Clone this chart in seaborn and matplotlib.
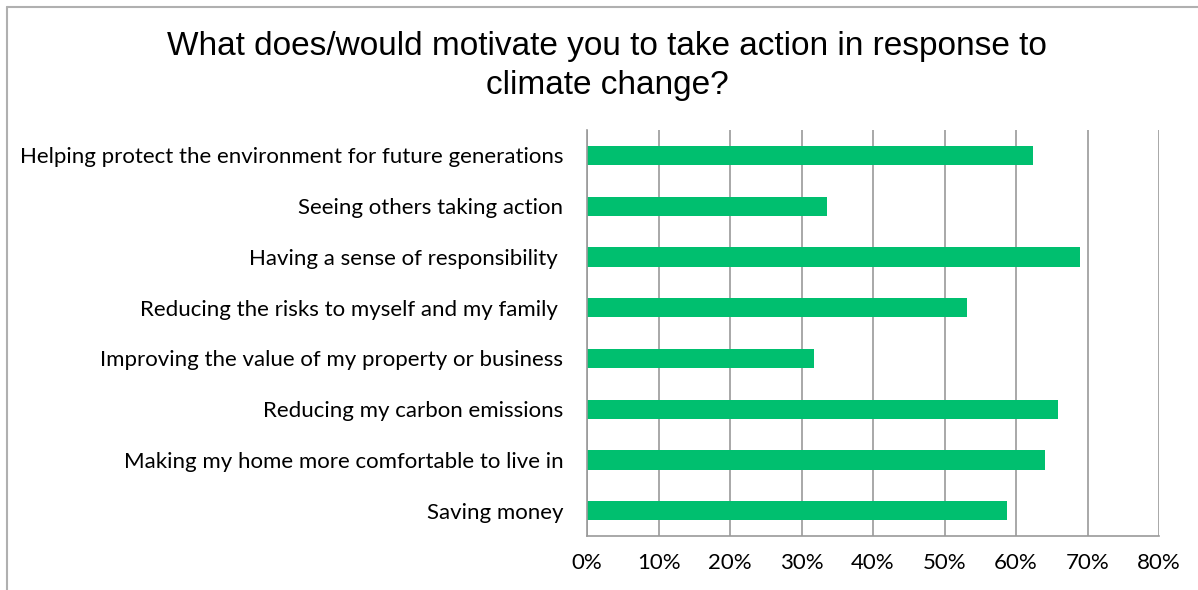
import numpy as np
import pandas as pd
import matplotlib
matplotlib.use("Agg")
import matplotlib.pyplot as plt
import seaborn as sns
from matplotlib.ticker import PercentFormatter, FixedLocator
from matplotlib.lines import Line2D

categories = [
    "Helping protect the environment for future generations",
    "Seeing others taking action",
    "Having a sense of responsibility ",
    "Reducing the risks to myself and my family ",
    "Improving the value of my property or business",
    "Reducing my carbon emissions",
    "Making my home more comfortable to live in",
    "Saving money",
]
shares = [62.3, 33.6, 68.9, 53.1, 31.7, 65.8, 64.1, 58.7]
x_ticks = [0, 10, 20, 30, 40, 50, 60, 70, 80]

df = pd.DataFrame({"reason": categories, "share": shares})

sns.set_style("white")
plt.rcParams["font.family"] = ["Lato", "DejaVu Sans"]

fig = plt.figure(figsize=(11.98, 5.90), dpi=100)
ax = fig.add_axes([0.49, 0.0915, 0.4775, 0.688])

sns.barplot(data=df, x="share", y="reason", color="#00BF6F", saturation=1,
            width=0.38, edgecolor="none", ax=ax)

ax.set_xlim(0, 80)
ax.set_xticks(x_ticks)
ax.xaxis.set_major_formatter(PercentFormatter(decimals=0))
ax.grid(axis="x", color="#9a9a9a", linewidth=1.2)
ax.set_axisbelow(True)
ax.set_xlabel("")
ax.set_ylabel("")

for s in ["top", "right"]:
    ax.spines[s].set_visible(False)
for s in ["left", "bottom"]:
    ax.spines[s].set_color("#9a9a9a")
    ax.spines[s].set_linewidth(1.2)

ax.tick_params(axis="x", direction="out", length=4, color="#9a9a9a", width=1.2,
               labelsize=16, labelcolor="black", pad=8)
ax.tick_params(axis="y", which="major", length=0, labelsize=16,
               labelcolor="black", pad=17)
ax.yaxis.set_minor_locator(FixedLocator(np.arange(-0.5, len(categories), 1)))
ax.tick_params(axis="y", which="minor", direction="out", length=6,
               color="#9a9a9a", width=1.2)

fig.text(0.507, 0.888, "What does/would motivate you to take action in response to\nclimate change?",
         ha="center", va="center", fontsize=24, color="black",
         family=["Liberation Sans", "DejaVu Sans"], linespacing=1.3)

# chart frame: only top and left edges fall inside the picture
fig.add_artist(Line2D([0.0055, 1.0], [0.988, 0.988], transform=fig.transFigure,
                      color="#b0b0b0", linewidth=1.5))
fig.add_artist(Line2D([0.0055, 0.0055], [0.0, 0.988], transform=fig.transFigure,
                      color="#b0b0b0", linewidth=1.5))

fig.savefig("out.png", dpi=100)
